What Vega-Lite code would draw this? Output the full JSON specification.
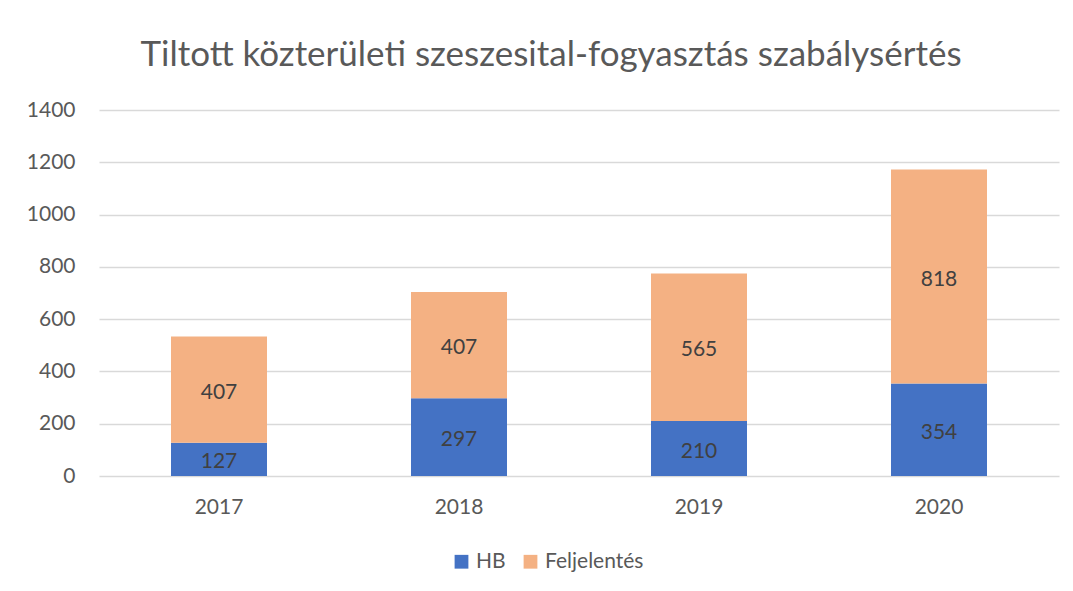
{
  "$schema": "https://vega.github.io/schema/vega-lite/v6.json",
  "width": 960,
  "height": 366,
  "autosize": "none",
  "padding": {"left": 99, "top": 110, "right": 14, "bottom": 115},
  "background": "white",
  "title": {
    "text": "Tiltott közterületi szeszesital-fogyasztás szabálysértés",
    "font": "Lato",
    "fontSize": 35,
    "fontWeight": "normal",
    "color": "#595959",
    "anchor": "middle",
    "dx": -28,
    "offset": 26
  },
  "data": {
    "values": [
      {"year": "2017", "series": "HB", "value": 127},
      {"year": "2017", "series": "Feljelentés", "value": 407},
      {"year": "2018", "series": "HB", "value": 297},
      {"year": "2018", "series": "Feljelentés", "value": 407},
      {"year": "2019", "series": "HB", "value": 210},
      {"year": "2019", "series": "Feljelentés", "value": 565},
      {"year": "2020", "series": "HB", "value": 354},
      {"year": "2020", "series": "Feljelentés", "value": 818}
    ]
  },
  "encoding": {
    "x": {
      "field": "year",
      "type": "ordinal",
      "title": null,
      "scale": {"paddingInner": 0.6, "paddingOuter": 0.3},
      "axis": {
        "labelAngle": 0,
        "labelFont": "Lato",
        "labelFontSize": 21,
        "labelColor": "#595959",
        "labelPadding": 20,
        "domain": false,
        "ticks": false,
        "grid": false
      }
    },
    "y": {
      "field": "value",
      "type": "quantitative",
      "stack": "zero",
      "title": null,
      "scale": {"domain": [0, 1400]},
      "axis": {
        "values": [0, 200, 400, 600, 800, 1000, 1200, 1400],
        "format": "d",
        "labelFont": "Lato",
        "labelFontSize": 21,
        "labelColor": "#595959",
        "labelPadding": 24,
        "domain": false,
        "ticks": false,
        "grid": true,
        "gridColor": "#D9D9D9",
        "gridWidth": 1.5
      }
    },
    "order": {"field": "series", "sort": "descending"}
  },
  "layer": [
    {
      "mark": {"type": "bar"},
      "encoding": {
        "color": {
          "field": "series",
          "type": "nominal",
          "sort": ["HB", "Feljelentés"],
          "scale": {"domain": ["HB", "Feljelentés"], "range": ["#4472C4", "#F4B183"]},
          "legend": {
            "title": null,
            "orient": "none",
            "direction": "horizontal",
            "legendX": 352,
            "legendY": 441,
            "symbolType": "square",
            "symbolSize": 190,
            "symbolStrokeWidth": 0,
            "labelFont": "Lato",
            "labelFontSize": 21,
            "labelColor": "#595959",
            "labelOffset": 4,
            "columnPadding": 14
          }
        }
      }
    },
    {
      "mark": {"type": "text", "font": "Lato", "fontSize": 21, "color": "#404040", "baseline": "middle", "dy": 3},
      "encoding": {
        "y": {"field": "value", "type": "quantitative", "stack": "zero", "bandPosition": 0.5},
        "text": {"field": "value", "type": "quantitative"}
      }
    }
  ],
  "config": {"view": {"stroke": null}}
}
